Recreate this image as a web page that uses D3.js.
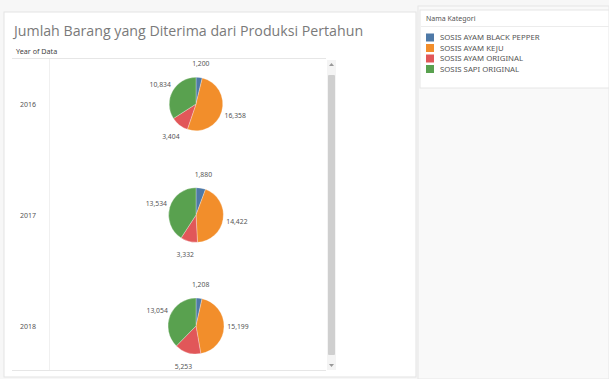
<!DOCTYPE html>
<html><head><meta charset="utf-8">
<script src="https://cdn.jsdelivr.net/npm/d3@7"></script>
<style>
html,body{margin:0;padding:0;background:#f7f7f7;}
svg{display:block;font-family:"Noto Sans","Open Sans",sans-serif;}
</style></head>
<body>
<svg id="c" width="609" height="379"></svg>
<script>
const years = ["2016", "2017", "2018"];
const categories = ["SOSIS AYAM BLACK PEPPER", "SOSIS AYAM KEJU", "SOSIS AYAM ORIGINAL", "SOSIS SAPI ORIGINAL"];
const values2016 = [1200, 16358, 3404, 10834];
const values2017 = [1880, 14422, 3332, 13534];
const values2018 = [1208, 15199, 5253, 13054];
const colors = ["#4e79a7", "#f28e2b", "#e15759", "#59a14f"];
const allValues = [values2016, values2017, values2018];

const svg = d3.select("#c");

// panels
svg.append("rect").attr("x",4).attr("y",12).attr("width",412).attr("height",365).attr("fill","#fff").attr("stroke","#e3e3e3");
svg.append("rect").attr("x",418).attr("y",6).attr("width",191).attr("height",373).attr("fill","#f9f9f9").attr("stroke","#e6e6e6");
svg.append("rect").attr("x",420).attr("y",10).attr("width",189).attr("height",78).attr("fill","#fff").attr("stroke","#e6e6e6");

// title
svg.append("text").attr("x",14).attr("y",36).attr("font-size",14.2).attr("fill","#7a7a7a")
  .attr("font-family","'Open Sans',sans-serif")
  .text("Jumlah Barang yang Diterima dari Produksi Pertahun");
svg.append("text").attr("x",16).attr("y",54).attr("font-size",7.2).attr("fill","#444")
  .text("Year of Data");
svg.append("line").attr("x1",12).attr("x2",326).attr("y1",58.5).attr("y2",58.5).attr("stroke","#e6e6e6");
svg.append("line").attr("x1",49.5).attr("x2",49.5).attr("y1",59).attr("y2",370).attr("stroke","#f0f0f0");
svg.append("line").attr("x1",12).attr("x2",326).attr("y1",370.5).attr("y2",370.5).attr("stroke","#e6e6e6");

// scrollbar
svg.append("rect").attr("x",327).attr("y",60).attr("width",9).attr("height",310).attr("fill","#f4f4f4");
svg.append("rect").attr("x",328).attr("y",75).attr("width",7).attr("height",280).attr("fill","#cfcfcf").attr("rx",1);
svg.append("path").attr("d","M329,66 L331.5,63 L334,66 Z").attr("fill","#999");
svg.append("path").attr("d","M329,364 L331.5,367 L334,364 Z").attr("fill","#999");

// rows
const y = d3.scalePoint().domain(years).range([104, 326]);
const totals = allValues.map(v => d3.sum(v));
const r = d3.scaleSqrt().domain([0, d3.max(totals)]).range([0, 28]);
const pie = d3.pie().sort(null);
const fmt = d3.format(",");

years.forEach((yr, i) => {
  const cy = y(yr);
  const cx = 196;
  svg.append("text").attr("x",20).attr("y",cy+3).attr("font-size",7).attr("fill","#555").text(yr);
  const rad = r(totals[i]);
  const arc = d3.arc().innerRadius(0).outerRadius(rad);
  const lab = d3.arc().innerRadius(rad+14).outerRadius(rad+14);
  const g = svg.append("g").attr("transform",`translate(${cx},${cy})`);
  const arcs = pie(allValues[i]);
  g.selectAll("path").data(arcs).join("path").attr("d",arc)
    .attr("fill",(d,j)=>colors[j]).attr("stroke","#fff").attr("stroke-width",0.3);
  g.selectAll("text").data(arcs).join("text")
    .attr("transform",d=>{const c=lab.centroid(d); return `translate(${c[0]},${c[1]+2.5})`;})
    .attr("text-anchor","middle").attr("font-size",6.8).attr("fill","#555")
    .text(d=>fmt(d.data));
});

// legend
svg.append("text").attr("x",426).attr("y",21).attr("font-size",7).attr("fill","#555").text("Nama Kategori");
svg.append("line").attr("x1",421).attr("x2",609).attr("y1",26.5).attr("y2",26.5).attr("stroke","#ececec");
const ly = d3.scaleBand().domain(categories).range([32,74]);
categories.forEach((c,j)=>{
  svg.append("rect").attr("x",426).attr("y",ly(c)+1.5).attr("width",8).attr("height",8).attr("fill",colors[j]);
  svg.append("text").attr("x",440).attr("y",ly(c)+8.3).attr("font-size",7.8).attr("fill","#555").text(c);
});
</script>
</body></html>
